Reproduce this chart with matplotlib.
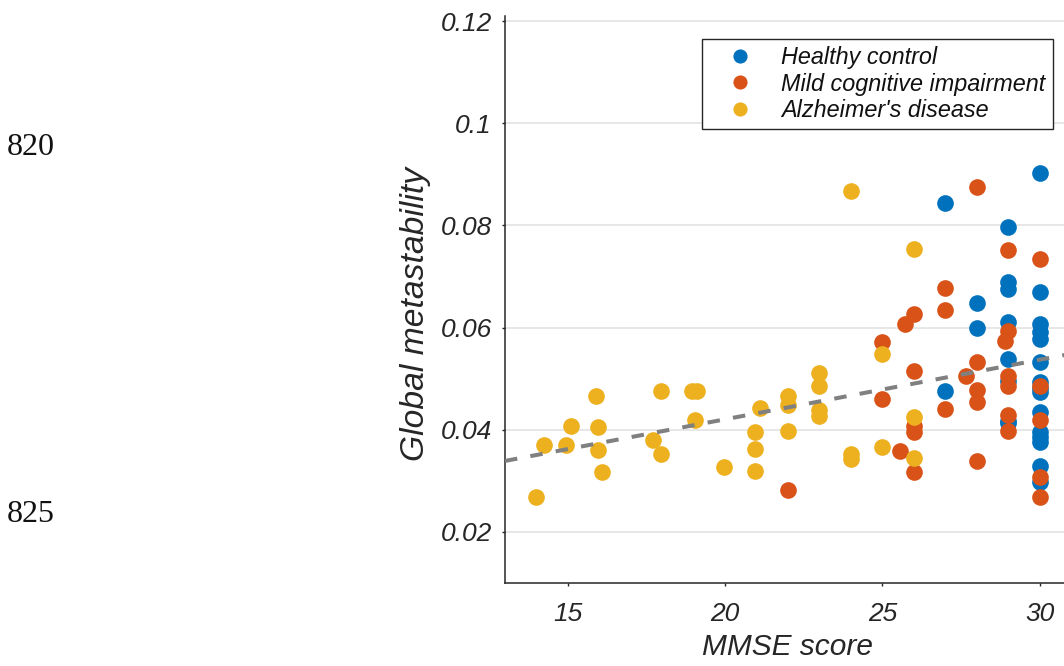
import numpy as np
import matplotlib
matplotlib.use("Agg")
import matplotlib.pyplot as plt

# MMSE score / global metastability per group
hc_mmse = [27, 27, 28, 28,
           29, 29, 29, 29, 29, 29, 29, 29,
           30, 30, 30, 30, 30, 30, 30, 30, 30, 30, 30, 30, 30, 30, 30]
hc_meta = [0.0843, 0.0475, 0.0648, 0.0599,
           0.0797, 0.0689, 0.0676, 0.0610, 0.0539, 0.0496, 0.0418, 0.0413,
           0.0903, 0.0670, 0.0607, 0.0591, 0.0578, 0.0532, 0.0493, 0.0482,
           0.0473, 0.0434, 0.0395, 0.0386, 0.0376, 0.0330, 0.0297]

mci_mmse = [22, 25, 25, 25.57, 25.71, 26, 26, 26, 26, 26,
            27, 27, 27, 27.67, 28, 28, 28, 28, 28, 28.9,
            29, 29, 29, 29, 29, 29, 30, 30, 30, 30, 30]
mci_meta = [0.0282, 0.0571, 0.0460, 0.0358, 0.0607, 0.0626, 0.0516, 0.0408, 0.0395, 0.0317,
            0.0677, 0.0634, 0.0441, 0.0505, 0.0876, 0.0532, 0.0477, 0.0454, 0.0338, 0.0574,
            0.0752, 0.0594, 0.0506, 0.0486, 0.0429, 0.0398, 0.0734, 0.0485, 0.0420, 0.0307, 0.0268]

ad_mmse = [14, 14.25, 14.95, 15.1, 15.9, 15.95, 15.95, 16.1, 17.7, 17.95, 17.95,
           18.95, 19.1, 19.05, 19.95, 20.95, 20.95, 20.95, 21.1, 22, 22, 22,
           23, 23, 23, 23, 24, 24, 24, 25, 25, 26, 26, 26]
ad_meta = [0.0269, 0.0370, 0.0371, 0.0408, 0.0467, 0.0405, 0.0360, 0.0318, 0.0379, 0.0352, 0.0475,
           0.0475, 0.0475, 0.0419, 0.0328, 0.0396, 0.0362, 0.0320, 0.0443, 0.0467, 0.0449, 0.0397,
           0.0512, 0.0486, 0.0439, 0.0426, 0.0867, 0.0353, 0.0342, 0.0548, 0.0366, 0.0753, 0.0424, 0.0344]

# linear fit across all subjects
fit_intercept = 0.01875
fit_slope = 0.001165

group_labels = ['Healthy control', 'Mild cognitive impairment', "Alzheimer's disease"]
group_colors = ['#0072BD', '#D95319', '#EDB120']

xticks = [15, 20, 25, 30]
yticks = [0.02, 0.04, 0.06, 0.08, 0.1, 0.12]

W, H = 1064, 666
fig = plt.figure(figsize=(W/100, H/100), dpi=100)
ax = fig.add_axes([505/W, 83/H, 566/W, 567/H])

txtcol = '#262626'
sans = 'Liberation Sans'

for xs, ys, lab, col in zip([hc_mmse, mci_mmse, ad_mmse], [hc_meta, mci_meta, ad_meta],
                            group_labels, group_colors):
    ax.plot(xs, ys, 'o', color=col, ms=12, mew=0, label=lab, zorder=3)

xl = np.array([13, 31])
ax.plot(xl, fit_intercept + fit_slope*xl, color='#808080', lw=2.9,
        dashes=(3.1, 3.3), zorder=4)

ax.set_xlim(13, 31)
ax.set_ylim(0.01, 0.121)
ax.set_xticks(xticks)
ax.set_yticks(yticks)
ax.set_xticklabels(['%g' % t for t in xticks], fontsize=19, fontstyle='italic',
                   family=sans, color=txtcol)
ax.set_yticklabels(['%g' % t for t in yticks], fontsize=19, fontstyle='italic',
                   family=sans, color=txtcol)
ax.tick_params(axis='both', direction='out', length=2.5, width=1, color=txtcol)
ax.tick_params(axis='y', pad=7)
ax.tick_params(axis='x', pad=11)

ax.yaxis.grid(True, color='#e3e3e3', lw=1.2)
ax.set_axisbelow(True)
for s in ['top', 'right']:
    ax.spines[s].set_visible(False)
for s in ['left', 'bottom']:
    ax.spines[s].set_color(txtcol)
    ax.spines[s].set_linewidth(1.1)

ax.set_xlabel('MMSE score', fontsize=21.5, fontstyle='italic', family=sans, color=txtcol)
ax.set_ylabel('Global metastability', fontsize=24.2, fontstyle='italic', family=sans, color=txtcol)
ax.xaxis.set_label_coords(0.5, -0.088)
ax.yaxis.set_label_coords(-0.131, 0.474)

leg = ax.legend(loc='upper left', bbox_to_anchor=(702/W, 1 - 39/H),
                bbox_transform=fig.transFigure, borderaxespad=0,
                prop={'family': sans, 'style': 'italic', 'size': 16.8},
                fancybox=False, framealpha=1, edgecolor=txtcol,
                borderpad=0.3, handlelength=2.67, handletextpad=0.43,
                labelspacing=0.15, markerscale=0.85)
leg.get_frame().set_linewidth(1.0)
for t in leg.get_texts():
    t.set_color('#111111')

# line numbers in the left margin
fig.text(7/W, 1 - 155/H, '820', family='Liberation Serif', fontsize=23,
         color='#111111', va='baseline', ha='left')
fig.text(7/W, 1 - 522/H, '825', family='Liberation Serif', fontsize=23,
         color='#111111', va='baseline', ha='left')

fig.savefig('out.png', dpi=100)
